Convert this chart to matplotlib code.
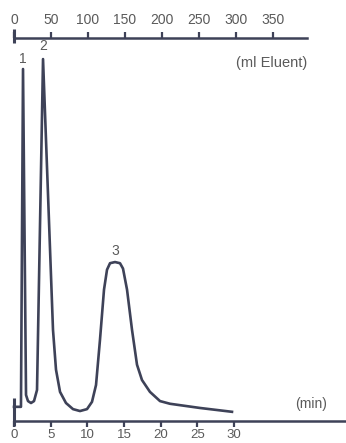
import matplotlib.pyplot as plt

# Chromatogram trace (time in min, detector signal in arbitrary units, 100 = top of frame)
time_min = [0.00, 0.95, 1.23, 1.64, 1.91, 2.32, 2.73, 3.14, 3.96, 5.32, 5.73, 6.28,
            7.09, 8.05, 9.00, 9.96, 10.64, 11.19, 11.73, 12.28, 12.69, 13.10, 13.78,
            14.46, 14.87, 15.42, 16.10, 16.78, 17.46, 18.55, 19.92, 21.28, 25.38, 29.74]
signal = [3.7, 3.7, 91.9, 6.8, 5.2, 4.7, 5.2, 8.1, 94.5, 23.8, 13.4, 7.6,
          4.7, 3.1, 2.6, 3.1, 5.0, 9.4, 21.2, 34.3, 39.5, 41.2, 41.5,
          41.2, 39.8, 34.3, 23.8, 14.7, 10.7, 7.6, 5.2, 4.5, 3.4, 2.4]

peak_labels = ['1', '2', '3']
peak_times = [1.23, 3.96, 13.78]
peak_heights = [91.9, 94.5, 41.5]
label_offsets = [7, 9.5, 8]

min_ticks = [0, 5, 10, 15, 20, 25, 30]
ml_ticks = [0, 50, 100, 150, 200, 250, 300, 350]
ml_per_min = 9.9

ink = '#3e4258'
txt = '#5a5a5a'
plt.rcParams['font.family'] = ['Liberation Sans', 'DejaVu Sans']

fig = plt.figure(figsize=(3.46, 4.43), dpi=100)
ax = fig.add_axes([14 / 346, 22 / 443, 332 / 346, 383 / 443])
xmax = 332 / 7.33
ax.set_xlim(0, xmax)
ax.set_ylim(0, 100)

ax.plot(time_min, signal, color=ink, lw=1.9, solid_joinstyle='round', clip_on=False)

for lab, t, h, off in zip(peak_labels, peak_times, peak_heights, label_offsets):
    ax.annotate(lab, (t, h), xytext=(0, off), textcoords='offset points',
                ha='center', va='center', fontsize=10, color=txt)

# bottom axis (minutes)
for s in ['left', 'right', 'top']:
    ax.spines[s].set_visible(False)
ax.spines['bottom'].set_color(ink)
ax.spines['bottom'].set_linewidth(1.8)
ax.set_yticks([])
ax.set_xticks(min_ticks)
ax.tick_params(axis='x', direction='out', length=4, width=1.6, color=ink,
               labelsize=9.5, labelcolor=txt, pad=1.5)
ax.plot([0, 0], [-1.2, 6], color=ink, lw=2.2, clip_on=False, solid_capstyle='butt')
ax.text(328 / 7.33 - 2.0, 4.5, '(min)', ha='right', va='center', fontsize=10, color=txt)

# top axis (ml eluent)
top = ax.twiny()
top.set_xlim(0, xmax * ml_per_min)
top.set_ylim(0, 100)
for s in ['left', 'right', 'bottom']:
    top.spines[s].set_visible(False)
top.spines['top'].set_color(ink)
top.spines['top'].set_linewidth(1.8)
top.spines['top'].set_bounds(0, 40 * ml_per_min)
top.set_xticks(ml_ticks)
top.tick_params(axis='x', direction='out', length=4, width=1.6, color=ink,
                labelsize=10, labelcolor=txt, pad=4)
top.plot([0, 0], [98.7, 102.4], color=ink, lw=2.2, clip_on=False, solid_capstyle='butt')
top.text(40 * ml_per_min, 93.6, '(ml Eluent)', ha='right', va='center',
         fontsize=10.5, color=txt)

fig.savefig('out.png', dpi=100)
